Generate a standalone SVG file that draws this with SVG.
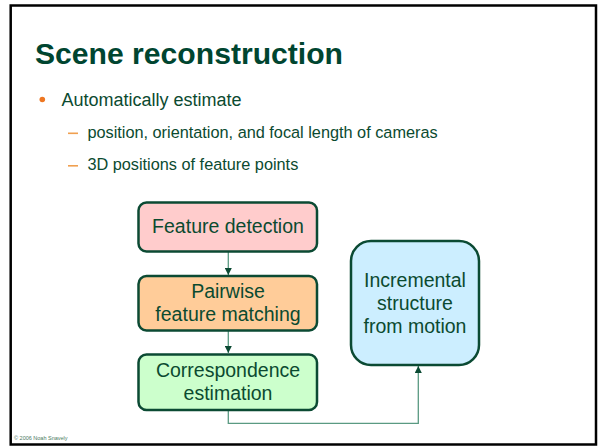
<svg xmlns="http://www.w3.org/2000/svg" width="600" height="447" viewBox="0 0 600 447">
<style>
  text { font-family: "Liberation Sans", Arial, sans-serif; fill: #0b4a30; }
  .title { font-size: 30px; font-weight: bold; fill: #004530; }
  .l1 { font-size: 18px; }
  .l2 { font-size: 16.3px; }
  .node { stroke: #0b4a33; stroke-width: 2.5; }
  .nt { font-size: 19.5px; text-anchor: middle; }
  .conn { fill: none; stroke: #5a9a82; stroke-width: 1.3; }
</style>
<defs>
  <marker id="arr" viewBox="0 0 10 10" refX="10" refY="5" markerWidth="7" markerHeight="7" markerUnits="userSpaceOnUse" orient="auto">
    <path d="M0,0 L10,5 L0,10 z" fill="#0b4a33"/>
  </marker>
</defs>
<rect x="0" y="0" width="600" height="447" fill="#ffffff"/>
<rect x="10.7" y="5.5" width="585.3" height="439" fill="#ffffff" stroke="#000000" stroke-width="2.5"/>

<text class="title" x="35" y="63.5" textLength="308" lengthAdjust="spacingAndGlyphs">Scene reconstruction</text>
<circle cx="42.3" cy="99.5" r="2.8" fill="#ee7722"/>
<text class="l1" x="61.5" y="106">Automatically estimate</text>
<rect x="68" y="132.5" width="10" height="1.6" fill="#f0a050"/>
<text class="l2" x="87.4" y="137.5">position, orientation, and focal length of cameras</text>
<rect x="68" y="165" width="10" height="1.6" fill="#f0a050"/>
<text class="l2" x="87.4" y="170">3D positions of feature points</text>

<g id="connectors">
  <line class="conn" x1="228.3" y1="252" x2="228.3" y2="275" marker-end="url(#arr)"/>
  <line class="conn" x1="228.3" y1="331" x2="228.3" y2="353" marker-end="url(#arr)"/>
  <polyline class="conn" points="228.3,411 228.3,423.3 418.3,423.3 418.3,366" marker-end="url(#arr)"/>
</g>

<g id="feature-detection">
  <rect class="node" x="138.5" y="202.5" width="178.5" height="49" rx="8" fill="#ffcccc"/>
  <text class="nt" x="228" y="233.3">Feature detection</text>
</g>
<g id="pairwise-matching">
  <rect class="node" x="138.5" y="276" width="178.5" height="54.5" rx="8" fill="#ffcc99"/>
  <text class="nt" x="228" y="298">Pairwise</text>
  <text class="nt" x="228" y="320.5">feature matching</text>
</g>
<g id="correspondence-estimation">
  <rect class="node" x="138.5" y="354.5" width="178.5" height="55.5" rx="8" fill="#ccffcc"/>
  <text class="nt" x="228" y="377">Correspondence</text>
  <text class="nt" x="228" y="400">estimation</text>
</g>
<g id="incremental-sfm">
  <rect class="node" x="351" y="241" width="128" height="124" rx="20" fill="#cceeff"/>
  <text class="nt" x="415" y="287">Incremental</text>
  <text class="nt" x="415" y="310">structure</text>
  <text class="nt" x="415" y="333">from motion</text>
</g>

<text x="14" y="440" style="font-size:5.5px; fill:#4a7a60;">© 2006 Noah Snavely</text>
</svg>
